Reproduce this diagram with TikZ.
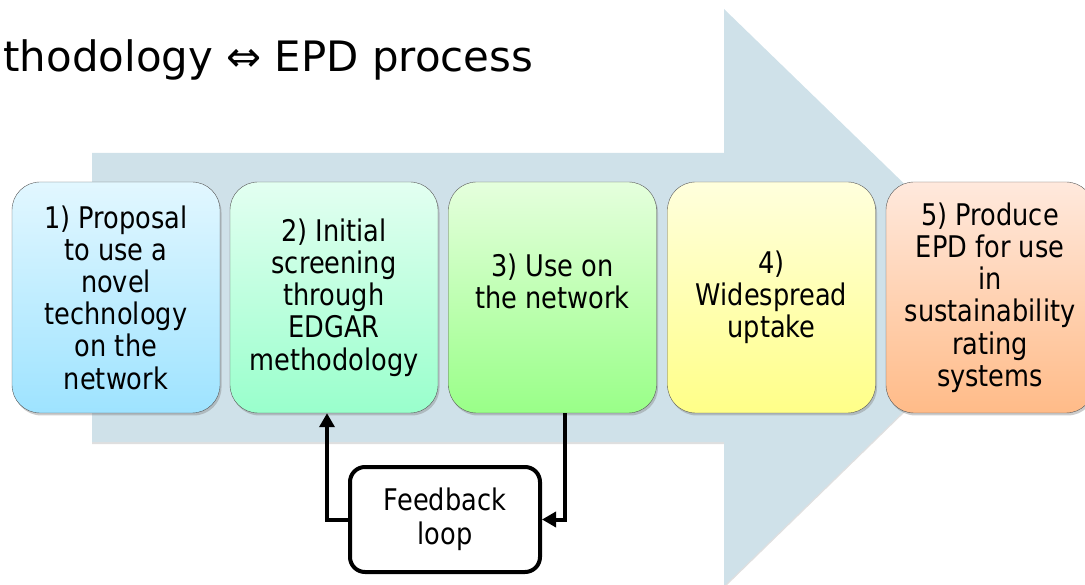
\documentclass[tikz,border=0pt]{standalone}
\usepackage{fontspec}
\setmainfont{DejaVu Sans}
\newfontfamily\stagefont{DejaVu Sans}[FakeStretch=0.86]
\usetikzlibrary{arrows.meta,shadows}

\definecolor{arrowbg}{HTML}{CFE1E9}
\definecolor{onetop}{HTML}{E2F7FF}\definecolor{onebot}{HTML}{9EE3FF}
\definecolor{twotop}{HTML}{E3FFF1}\definecolor{twobot}{HTML}{99FFCC}
\definecolor{thrtop}{HTML}{E5FFDD}\definecolor{thrbot}{HTML}{99FF88}
\definecolor{fourtop}{HTML}{FFFFDD}\definecolor{fourbot}{HTML}{FFFF88}
\definecolor{fivetop}{HTML}{FFE9DD}\definecolor{fivebot}{HTML}{FFBB88}

\tikzset{
  stage/.style={draw=black!65, rounded corners=28pt, minimum width=208pt,
    minimum height=231pt, align=center, shading=axis,
    font=\stagefont\fontsize{29.8}{32.2}\selectfont,
    drop shadow={opacity=0.4, shadow xshift=1.5pt, shadow yshift=-2.5pt}},
  loopbox/.style={draw, line width=4pt, rounded corners=15pt, fill=white,
    minimum width=190pt, minimum height=105pt, align=center,
    font=\stagefont\fontsize{29.8}{34}\selectfont},
  fbarrow/.style={line width=4pt, -{Triangle[length=14pt,width=15pt]}}
}

\begin{document}
\begin{tikzpicture}[x=1pt,y=-1pt]

\clip (0,0) rectangle (1085,585);
\useasboundingbox (0,0) rectangle (1085,585);

% background arrow
\fill[arrowbg, drop shadow={opacity=0.25, shadow xshift=0pt, shadow yshift=-2pt}]
  (92,153) -- (724,153) -- (724,9) -- (1021,297) -- (724,586) -- (724,442) -- (92,442) -- cycle;

\node[anchor=base west, font=\fontsize{41.9}{46}\selectfont] (title) at (0,72) {thodology ⇔ EPD process};

\def\cy{297.5}
\foreach \i/\x/\c/\t in {
  1/116/one/{1) Proposal\\to use a\\novel\\technology\\on the\\network},
  2/334/two/{2) Initial\\screening\\through\\EDGAR\\methodology},
  3/552.5/thr/{3) Use on\\the network\\~},
  4/771.5/four/{4)\\Widespread\\uptake},
  5/990/five/{5) Produce\\EPD for use\\in\\sustainability\\rating\\systems}}
  \node[stage, top color=\c top, bottom color=\c bot] (b\i) at (\x,\cy) {\t};

\node[loopbox] (fb) at (445,519.5) {Feedback\\loop};

\draw[fbarrow] (fb.west) -| ([xshift=-7pt]b2.south);
\draw[fbarrow] ([xshift=12.5pt]b3.south) |- (fb.east);

\end{tikzpicture}
\end{document}
